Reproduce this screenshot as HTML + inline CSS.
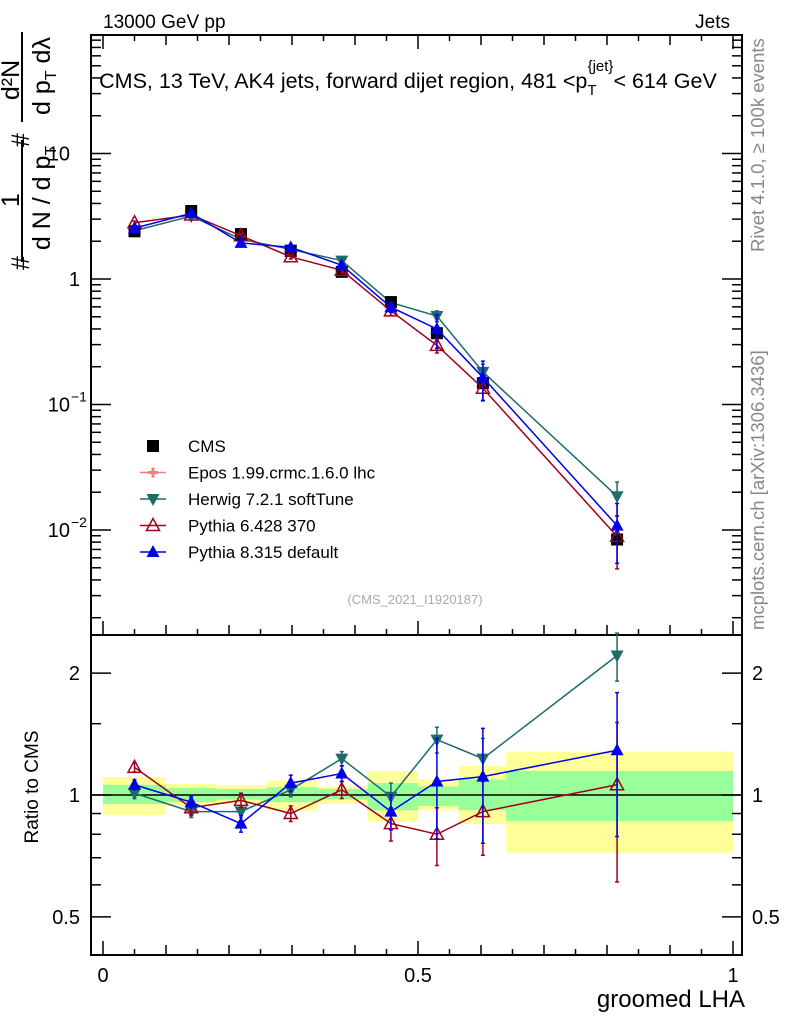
<!DOCTYPE html>
<html><head><meta charset="utf-8"><style>
body{margin:0;background:#fff}
svg{display:block;font-family:"Liberation Sans",sans-serif}
</style></head><body>
<svg id="c" width="786" height="1024" viewBox="0 0 786 1024">
<g id="bands"></g>
<g id="axes"></g>
<g id="series"></g>
<g id="txt">
<text x="103" y="28" font-size="19">13000 GeV pp</text>
<text x="730" y="28" font-size="19" text-anchor="end">Jets</text>
<text x="408" y="88" font-size="21.5" text-anchor="middle">CMS, 13 TeV, AK4 jets, forward dijet region, 481 &lt;p<tspan font-size="15" dy="7">T</tspan><tspan font-size="15" dy="-24" dx="-9">{jet}</tspan><tspan dy="17">&lt; 614 GeV</tspan></text>
<text x="415" y="604" font-size="13" fill="#aaa" text-anchor="middle">(CMS_2021_I1920187)</text>
<text transform="translate(764,252) rotate(-90)" font-size="18.5" fill="#888">Rivet 4.1.0, ≥ 100k events</text>
<text transform="translate(764,630) rotate(-90)" font-size="18.5" fill="#888">mcplots.cern.ch [arXiv:1306.3436]</text>
<text x="745" y="1007" font-size="24" text-anchor="end">groomed LHA</text>
<text transform="translate(38,787) rotate(-90)" font-size="19" text-anchor="middle">Ratio to CMS</text>
<g font-size="25">
<text transform="translate(29,270) rotate(-90)">#</text>
<text transform="translate(19,200) rotate(-90)" text-anchor="middle">1</text>
<line x1="22" y1="262" x2="22" y2="140" stroke="#000" stroke-width="2"/>
<text transform="translate(50,198) rotate(-90)" text-anchor="middle">d N / d p<tspan font-size="16" dy="6">T</tspan></text>
<text transform="translate(29,140) rotate(-90)" text-anchor="middle">#</text>
<text transform="translate(19,80) rotate(-90)" text-anchor="middle">d²N</text>
<line x1="22" y1="122" x2="22" y2="32" stroke="#000" stroke-width="2"/>
<text transform="translate(50,76) rotate(-90)" text-anchor="middle">d p<tspan font-size="16" dy="6">T</tspan><tspan dy="-6"> dλ</tspan></text>
</g>
</g>
<g id="legend"></g>
</svg>
<script>
const binEdges=[0,0.1,0.18,0.26,0.34,0.42,0.5,0.565,0.64,1.0];
const xCenters=[0.05,0.14,0.219,0.298,0.379,0.457,0.53,0.603,0.816];
const cmsVals=[2.4,3.48,2.28,1.67,1.14,0.655,0.37,0.148,0.0084];
const yellowHi=[1.108,1.065,1.055,1.085,1.05,1.146,1.093,1.18,1.28];
const yellowLo=[0.892,0.94,0.95,0.915,0.95,0.862,0.917,0.848,0.72];
const greenHi=[1.06,1.04,1.035,1.045,1.035,1.07,1.05,1.093,1.146];
const greenLo=[0.95,0.96,0.975,0.96,0.975,0.917,0.94,0.917,0.862];
const herwigRatio=[1.01,0.91,0.91,1.03,1.23,0.99,1.37,1.23,2.21];
const herwigErr=[0.03,0.03,0.03,0.04,0.05,0.08,0.1,0.15,0.3];
const py6Ratio=[1.17,0.93,0.97,0.90,1.03,0.85,0.80,0.91,1.06];
const py6Err=[0.03,0.04,0.04,0.04,0.05,0.08,0.13,0.2,0.45];
const py8Ratio=[1.06,0.96,0.85,1.07,1.13,0.91,1.08,1.11,1.29];
const py8Err=[0.03,0.03,0.04,0.05,0.05,0.09,0.3,0.35,0.5];
const xTicks=[0,0.5,1];
const xTickLabels=["0","0.5","1"];
const yDecades=[-2,-1,0,1];
const yDecadeLabels=["10","10","1","10"];
const ratioTicks=[0.5,1,2];
const ratioTickLabels=["0.5","1","2"];

const NS="http://www.w3.org/2000/svg";
const L=91,R=742,T=35,MB=635,RB=955;
const X=v=>103+630*v;
const Y=v=>279-125.5*Math.log10(v);
const YR=r=>795-405*Math.log10(r);
function mk(p,tag,at){const e=document.createElementNS(NS,tag);for(const k in at)e.setAttribute(k,at[k]);p.appendChild(e);return e;}
const bands=document.getElementById('bands'),axes=document.getElementById('axes'),ser=document.getElementById('series'),leg=document.getElementById('legend');

for(let i=0;i<binEdges.length-1;i++){
 const x0=X(binEdges[i]),x1=X(binEdges[i+1]);
 const y=mk(bands,'rect',{x:x0,y:YR(yellowHi[i]),width:x1-x0,height:YR(yellowLo[i])-YR(yellowHi[i]),fill:'#ffff99'});
 
 
 const g=mk(bands,'rect',{x:x0,y:YR(greenHi[i]),width:x1-x0,height:YR(greenLo[i])-YR(greenHi[i]),fill:'#99ff99'});
 
 
}
const one=mk(axes,'line',{x1:L,x2:R,y1:YR(1),y2:YR(1),stroke:'#000','stroke-width':1.5});


const f1=mk(axes,'rect',{x:L,y:T,width:R-L,height:MB-T,fill:'none',stroke:'#000','stroke-width':2});


const f2=mk(axes,'rect',{x:L,y:MB,width:R-L,height:RB-MB,fill:'none',stroke:'#000','stroke-width':2});


function tk(x1,y1,x2,y2){mk(axes,'line',{x1,y1,x2,y2,stroke:'#000','stroke-width':1.5});}
for(let k=0;k<=20;k++){const v=k*0.05,x=X(v),len=(k%10==0)?14:(k%2==0?10:6);
 tk(x,RB,x,RB-len);tk(x,T,x,T+len);tk(x,MB,x,MB-len);}
xTicks.forEach((v,i)=>{const t=mk(axes,'text',{x:X(v),y:982,'font-size':20,'text-anchor':'middle'});t.textContent=xTickLabels[i];
 
 });
for(let d=-3;d<=1;d++){for(let m=1;m<=9;m++){const v=m*Math.pow(10,d),y=Y(v);if(y<T||y>MB)continue;
 const len=m==1?20:10;tk(L,y,L+len,y);tk(R,y,R-len,y);}}
yDecades.forEach((d,i)=>{const y=Y(Math.pow(10,d));
 const t=mk(axes,'text',{x:d==0?80:70,y:y+7,'font-size':20,'text-anchor':'end'});t.textContent=yDecadeLabels[i];
 
 
 if(d<0){const s=mk(axes,'text',{x:71,y:y-3,'font-size':14});s.textContent=String(d).replace('-','−');}});
[0.5,0.6,0.7,0.8,0.9,1,1.5,2].forEach(r=>{const y=YR(r),len=(r==0.5||r==1||r==2)?20:10;tk(L,y,L+len,y);tk(R,y,R-len,y);});
ratioTicks.forEach((r,i)=>{const y=YR(r)+7;
 const a=mk(axes,'text',{x:80,y,'font-size':20,'text-anchor':'end'});a.textContent=ratioTickLabels[i];
 
 
 const b=mk(axes,'text',{x:752,y,'font-size':20});b.textContent=ratioTickLabels[i];
 
 });

function marker(g,type,x,y,col){
 if(type=='sq')mk(g,'rect',{x:x-6,y:y-6,width:12,height:12,fill:col});
 else if(type=='up')mk(g,'polygon',{points:`${x},${y-7} ${x-6.5},${y+5} ${x+6.5},${y+5}`,fill:col});
 else if(type=='down')mk(g,'polygon',{points:`${x},${y+7} ${x-6.5},${y-5} ${x+6.5},${y-5}`,fill:col});
 else if(type=='open')mk(g,'polygon',{points:`${x},${y-7} ${x-6.5},${y+5} ${x+6.5},${y+5}`,fill:'none',stroke:col,'stroke-width':1.5});
 else if(type=='cross')mk(g,'path',{d:`M${x-5} ${y}h10M${x} ${y-5}v10`,stroke:col,'stroke-width':3});
}
function drawSeries(name,ratio,err,col,type){
 const g=mk(ser,'g',{});
 
 
 const pm=xCenters.map((v,i)=>[X(v),Y(cmsVals[i]*ratio[i])]);
 const pr=xCenters.map((v,i)=>[X(v),YR(ratio[i])]);
 mk(g,'polyline',{points:pm.map(p=>p.join(',')).join(' '),fill:'none',stroke:col,'stroke-width':1.5});
 mk(g,'polyline',{points:pr.map(p=>p.join(',')).join(' '),fill:'none',stroke:col,'stroke-width':1.5});
 xCenters.forEach((v,i)=>{const x=X(v);
  const v0=cmsVals[i]*ratio[i],e=err[i];
  const a=Y(v0*(1+e)),b=Y(v0*Math.max(0.05,1-e));
  mk(g,'path',{d:`M${x} ${a}V${b}M${x-2} ${a}h4M${x-2} ${b}h4`,stroke:col,'stroke-width':1.5});
  const c=YR(ratio[i]+e),d=YR(Math.max(0.41,ratio[i]-e));
  mk(g,'path',{d:`M${x} ${c}V${d}M${x-2} ${c}h4M${x-2} ${d}h4`,stroke:col,'stroke-width':1.5});
  marker(g,type,x,pm[i][1],col);marker(g,type,x,pr[i][1],col);});
}
drawSeries('herwig',herwigRatio,herwigErr,'#1f6a6a','down');
drawSeries('pythia6',py6Ratio,py6Err,'#a00020','open');
drawSeries('pythia8',py8Ratio,py8Err,'#0000ee','up');
const cg=mk(ser,'g',{});


xCenters.forEach((v,i)=>marker(cg,'sq',X(v),Y(cmsVals[i]),'#000'));
cg.parentNode.insertBefore(cg,ser.firstChild.nextSibling);

const legItems=[['CMS','sq','#000'],['Epos 1.99.crmc.1.6.0 lhc','cross','#f08080'],['Herwig 7.2.1 softTune','down','#1f6a6a'],['Pythia 6.428 370','open','#a00020'],['Pythia 8.315 default','up','#0000ee']];
legItems.forEach((it,i)=>{const y=446+26.5*i;const g=mk(leg,'g',{});
 
 
 if(i>0)mk(g,'line',{x1:140,x2:166,y1:y,y2:y,stroke:it[2],'stroke-width':1.5});
 marker(g,it[1],153,y,it[2]);
 const t=mk(g,'text',{x:188,y:y+6,'font-size':17});t.textContent=it[0];});
</script>
</body></html>
